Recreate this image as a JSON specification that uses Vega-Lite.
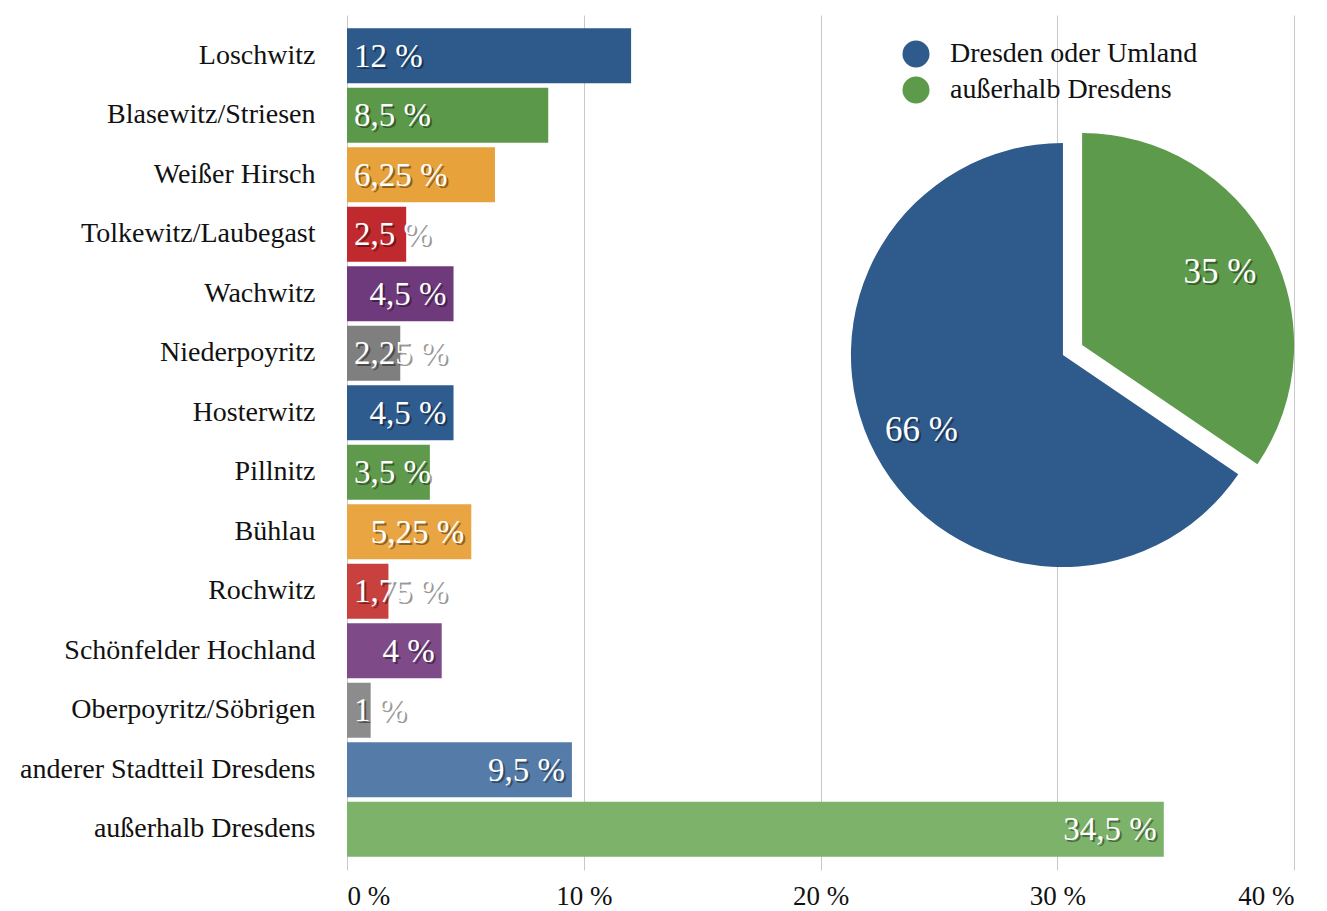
{
  "$schema": "https://vega.github.io/schema/vega-lite/v6.json",
  "autosize": {"type": "none"},
  "width": 947,
  "height": 855,
  "padding": {"left": 347, "top": 15, "right": 33, "bottom": 41},
  "background": "white",
  "config": {
    "font": "Liberation Serif",
    "view": {"stroke": null},
    "axisX": {"grid": true, "gridColor": "#c8c8c8", "gridWidth": 1, "domain": false, "ticks": false, "labelFontSize": 27, "labelColor": "#111111", "labelPadding": 13, "labelFont": "Liberation Serif"},
    "axisY": {"grid": false, "domain": false, "ticks": false, "labelFontSize": 28, "labelColor": "#111111", "labelPadding": 32, "labelLimit": 400, "labelFont": "Liberation Serif"}
  },
  "datasets": {
    "bars": [
      {"stadtteil": "Loschwitz", "anteil": 12, "label": "12 %"},
      {"stadtteil": "Blasewitz/Striesen", "anteil": 8.5, "label": "8,5 %"},
      {"stadtteil": "Weißer Hirsch", "anteil": 6.25, "label": "6,25 %"},
      {"stadtteil": "Tolkewitz/Laubegast", "anteil": 2.5, "label": "2,5 %"},
      {"stadtteil": "Wachwitz", "anteil": 4.5, "label": "4,5 %"},
      {"stadtteil": "Niederpoyritz", "anteil": 2.25, "label": "2,25 %"},
      {"stadtteil": "Hosterwitz", "anteil": 4.5, "label": "4,5 %"},
      {"stadtteil": "Pillnitz", "anteil": 3.5, "label": "3,5 %"},
      {"stadtteil": "Bühlau", "anteil": 5.25, "label": "5,25 %"},
      {"stadtteil": "Rochwitz", "anteil": 1.75, "label": "1,75 %"},
      {"stadtteil": "Schönfelder Hochland", "anteil": 4, "label": "4 %"},
      {"stadtteil": "Oberpoyritz/Söbrigen", "anteil": 1, "label": "1 %"},
      {"stadtteil": "anderer Stadtteil Dresdens", "anteil": 9.5, "label": "9,5 %"},
      {"stadtteil": "außerhalb Dresdens", "anteil": 34.5, "label": "34,5 %"}
    ],
    "pie": [
      {"group": "Dresden oder Umland", "value": 65.5, "label": "66 %"},
      {"group": "außerhalb Dresdens", "value": 34.5, "label": "35 %"}
    ]
  },
  "layer": [
    {
      "data": {"name": "bars"},
      "encoding": {
        "y": {"field": "stadtteil", "type": "nominal", "sort": null, "title": null,
              "scale": {"type": "band", "paddingInner": 0.076, "paddingOuter": 0.223}}
      },
      "layer": [
        {
          "mark": {"type": "bar"},
          "encoding": {
            "x": {"field": "anteil", "type": "quantitative", "title": null,
                  "scale": {"domain": [0, 40], "nice": false},
                  "axis": {"values": [0, 10, 20, 30, 40], "labelExpr": "datum.value + ' %'"}},
            "color": {"field": "stadtteil", "type": "nominal", "legend": null,
              "scale": {
                "domain": ["Loschwitz", "Blasewitz/Striesen", "Weißer Hirsch", "Tolkewitz/Laubegast", "Wachwitz", "Niederpoyritz", "Hosterwitz", "Pillnitz", "Bühlau", "Rochwitz", "Schönfelder Hochland", "Oberpoyritz/Söbrigen", "anderer Stadtteil Dresdens", "außerhalb Dresdens"],
                "range": ["#2D5A8B", "#5C984A", "#E8A23C", "#C0292D", "#6F3A7C", "#7F7F7F", "#2F5C8E", "#5F9A4C", "#EAA543", "#C8413F", "#7E4A88", "#8C8C8C", "#557BA8", "#7DB26A"]
              }}
          }
        },
        {
          "transform": [{"filter": {"field": "stadtteil", "oneOf": ["Loschwitz", "Blasewitz/Striesen", "Weißer Hirsch", "Tolkewitz/Laubegast", "Niederpoyritz", "Pillnitz", "Rochwitz", "Oberpoyritz/Söbrigen"]}}],
          "mark": {"type": "text", "align": "left", "baseline": "middle", "fontSize": 33, "color": "#000000", "opacity": 0.4, "dx": 9, "dy": 3},
          "encoding": {"x": {"datum": 0, "type": "quantitative", "title": null}, "text": {"field": "label"}}
        },
        {
          "transform": [{"filter": {"field": "stadtteil", "oneOf": ["Loschwitz", "Blasewitz/Striesen", "Weißer Hirsch", "Tolkewitz/Laubegast", "Niederpoyritz", "Pillnitz", "Rochwitz", "Oberpoyritz/Söbrigen"]}}],
          "mark": {"type": "text", "align": "left", "baseline": "middle", "fontSize": 33, "color": "white", "dx": 7, "dy": 1},
          "encoding": {"x": {"datum": 0, "type": "quantitative", "title": null}, "text": {"field": "label"}}
        },
        {
          "transform": [{"filter": {"field": "stadtteil", "oneOf": ["Wachwitz", "Hosterwitz", "Bühlau", "Schönfelder Hochland", "anderer Stadtteil Dresdens", "außerhalb Dresdens"]}}],
          "mark": {"type": "text", "align": "right", "baseline": "middle", "fontSize": 33, "color": "#000000", "opacity": 0.4, "dx": -5, "dy": 3},
          "encoding": {"x": {"field": "anteil", "type": "quantitative", "title": null}, "text": {"field": "label"}}
        },
        {
          "transform": [{"filter": {"field": "stadtteil", "oneOf": ["Wachwitz", "Hosterwitz", "Bühlau", "Schönfelder Hochland", "anderer Stadtteil Dresdens", "außerhalb Dresdens"]}}],
          "mark": {"type": "text", "align": "right", "baseline": "middle", "fontSize": 33, "color": "white", "dx": -7, "dy": 1},
          "encoding": {"x": {"field": "anteil", "type": "quantitative", "title": null}, "text": {"field": "label"}}
        }
      ]
    },
    {
      "data": {"name": "pie"},
      "encoding": {
        "theta": {"field": "value", "type": "quantitative", "stack": true, "scale": {"domain": [0, 100]}},
        "order": {"field": "value", "sort": "ascending"}
      },
      "layer": [
        {
          "mark": {"type": "arc", "outerRadius": 212},
          "encoding": {
            "x": {"datum": 30.24, "type": "quantitative", "title": null},
            "y": {"datum": 0.6023, "type": "quantitative", "scale": {"domain": [0, 1]}, "axis": null},
            "color": {"field": "group", "type": "nominal",
              "scale": {"domain": ["Dresden oder Umland", "außerhalb Dresdens"], "range": ["#2E5A8C", "#5E9A4B"]},
              "legend": {"title": null, "orient": "none", "legendX": 555, "legendY": 25, "symbolType": "circle", "symbolSize": 729, "symbolOpacity": 1, "symbolStrokeWidth": 0, "labelFontSize": 28, "labelFont": "Liberation Serif", "labelColor": "#111111", "labelLimit": 500, "rowPadding": 8, "labelOffset": 20, "padding": 0}},
            "opacity": {"condition": {"test": "datum.group === 'Dresden oder Umland'", "value": 1}, "value": 0}
          }
        },
        {
          "mark": {"type": "arc", "outerRadius": 212},
          "encoding": {
            "x": {"datum": 31.05, "type": "quantitative", "title": null},
            "y": {"datum": 0.614, "type": "quantitative"},
            "color": {"field": "group", "type": "nominal"},
            "opacity": {"condition": {"test": "datum.group === 'außerhalb Dresdens'", "value": 1}, "value": 0}
          }
        },
        {
          "mark": {"type": "text", "radius": 160, "fontSize": 35, "color": "#000000", "dx": 2, "dy": 2},
          "encoding": {
            "x": {"datum": 30.24, "type": "quantitative", "title": null},
            "y": {"datum": 0.6023, "type": "quantitative"},
            "text": {"field": "label"},
            "opacity": {"condition": {"test": "datum.group === 'Dresden oder Umland'", "value": 0.4}, "value": 0}
          }
        },
        {
          "mark": {"type": "text", "radius": 160, "fontSize": 35, "color": "white"},
          "encoding": {
            "x": {"datum": 30.24, "type": "quantitative", "title": null},
            "y": {"datum": 0.6023, "type": "quantitative"},
            "text": {"field": "label"},
            "opacity": {"condition": {"test": "datum.group === 'Dresden oder Umland'", "value": 1}, "value": 0}
          }
        },
        {
          "mark": {"type": "text", "radius": 156, "fontSize": 35, "color": "#000000", "dx": 2, "dy": 2},
          "encoding": {
            "x": {"datum": 31.05, "type": "quantitative", "title": null},
            "y": {"datum": 0.614, "type": "quantitative"},
            "text": {"field": "label"},
            "opacity": {"condition": {"test": "datum.group === 'außerhalb Dresdens'", "value": 0.4}, "value": 0}
          }
        },
        {
          "mark": {"type": "text", "radius": 156, "fontSize": 35, "color": "white"},
          "encoding": {
            "x": {"datum": 31.05, "type": "quantitative", "title": null},
            "y": {"datum": 0.614, "type": "quantitative"},
            "text": {"field": "label"},
            "opacity": {"condition": {"test": "datum.group === 'außerhalb Dresdens'", "value": 1}, "value": 0}
          }
        }
      ]
    }
  ],
  "resolve": {"scale": {"y": "independent", "color": "independent"}}
}
